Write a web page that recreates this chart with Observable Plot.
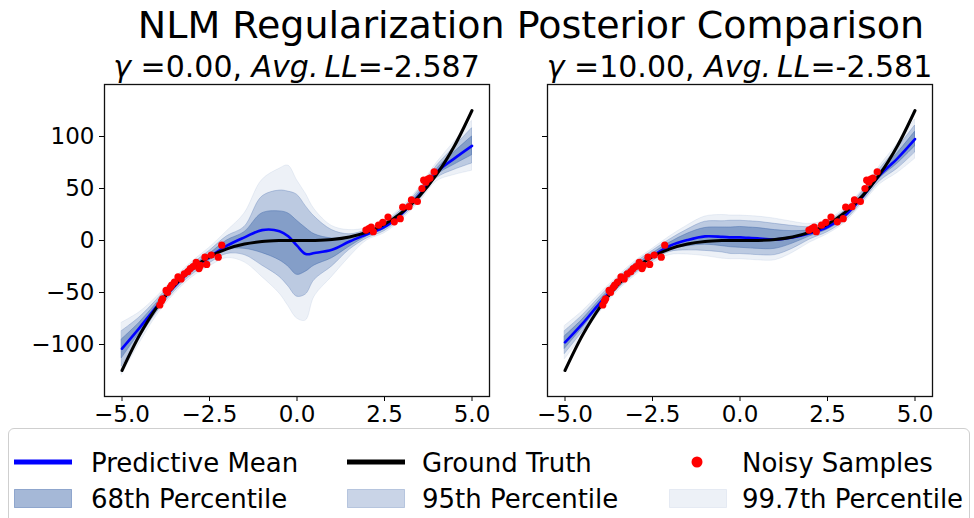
<!DOCTYPE html>
<html><head><meta charset="utf-8">
<script src="https://cdn.jsdelivr.net/npm/d3@7"></script>
<script src="https://cdn.jsdelivr.net/npm/@observablehq/plot@0.6"></script>
<style>
body{margin:0;background:#fff;font-family:"DejaVu Sans",sans-serif;}
#root{position:relative;width:974px;height:518px;overflow:hidden;background:#fff;}
.t{position:absolute;white-space:nowrap;line-height:1;color:#000;}
.c{transform:translateX(-50%);}
.i{font-style:italic;}
.box{position:absolute;left:8px;top:428px;width:962px;height:110px;border:1px solid #cfcfcf;border-radius:6px;box-sizing:border-box;}
</style></head><body><div id="root"></div>
<script>
// ---- data ----
const xs = [-5,-4.5,-4,-3.5,-3,-2.5,-2,-1.5,-1,-0.5,-0.25,0,0.25,0.5,1,1.5,2,2.5,3,3.5,4,4.5,5];
const truth = [-125,-91.1,-64,-42.9,-27,-15.6,-8,-3.4,-1,-0.1,0,0,0,0.1,1,3.4,8,15.6,27,42.9,64,91.1,125];

// left panel (gamma = 0)
const meanA  = [-104,-84,-63,-44,-28,-16,-5,3,10,9,4,-5,-13,-12,-9,-1,6,13,26,44,66,79,91];
const lo68A  = [-113,-89,-66,-46.5,-30.5,-19,-9,-8,-12,-19,-25,-33,-30,-24,-17,-6,4,11,24,41.5,63,73,82];
const hi68A  = [-95,-79,-60,-41.5,-25.5,-13,0,8,26,28,26,19,12,6,2,3,8,15,28,46.5,69,85,100];
const lo95A  = [-121,-94,-69,-49,-33,-22,-13,-14,-24,-35,-44,-54,-52,-38,-25,-9,2,9,22,39,60,68,74];
const hi95A  = [-87,-74,-57,-39,-23,-10,4,13,42,48,47,44,33,23,10,6,10,17,30,49,72,90,108];
const lo997A = [-129,-99,-72,-51.5,-35.5,-25,-17,-21,-35,-51,-63,-75,-77,-54,-35,-16,0,7,20,37,57,63,67];
const hi997A = [-79,-69,-54,-36.5,-20.5,-7,9,26,58,69,72,58,45,30,14,10,12,19,32,51,75,95,115];

// right panel (gamma = 10)
const meanB  = [-98,-80,-60,-42,-27,-15,-5,0.5,4,3.5,3,3,2.5,2,1,3,7,13,24,42,63,79,97.5];
const lo68B  = [-104,-84,-63,-44.5,-29.5,-17.5,-8,-5.5,-4,-5.5,-6.5,-7,-7.5,-8,-8,-3,4,10.5,21.5,39.5,60,74,90.5];
const hi68B  = [-92,-76,-57,-39.5,-24.5,-12.5,-2,6.5,12,12.5,12.5,13,12.5,12,10,9,10,15.5,26.5,44.5,66,84,104.5];
const lo95B  = [-109,-88,-66,-47,-32,-20,-11,-9.5,-10,-11.5,-13,-13,-13.5,-14,-14,-8,1,8,19,37,57,69,84.5];
const hi95B  = [-87,-72,-54,-37,-22,-10,1,10.5,18,18.5,19,19,18.5,18,16,14,13,18,29,47,69,89,110.5];
const lo997B = [-114,-92,-69,-49,-34,-22,-14,-13.5,-15,-17.5,-18,-18,-18.5,-19,-19,-12,-2,6,17,35,54,65,78.5];
const hi997B = [-82,-68,-51,-35,-20,-8,4,14.5,23,24.5,24,24,23.5,23,21,18,16,20,31,49,72,93,116.5];

// noisy samples
const sampleX = [-3.92,-3.87,-3.84,-3.74,-3.70,-3.62,-3.58,-3.50,-3.40,-3.31,-3.22,-3.12,-3.05,-2.97,-2.88,-2.80,-2.76,-2.63,-2.58,-2.45,-2.25,-2.15,
                 1.97,2.05,2.12,2.18,2.33,2.45,2.60,2.78,2.95,3.02,3.20,3.27,3.44,3.57,3.62,3.68,3.74,3.80,3.92];
const sampleY = [-62,-58,-56,-48,-50,-45,-43,-40,-35,-37,-32,-30,-27,-25,-21,-27,-24,-16,-23,-14,-16,-4.5,
                 10,11.5,13,8.5,14.7,17.5,22.5,18,21,32,32.5,39,37.5,50,58,56,59,60,66];

const xTickValues = [-5,-2.5,0,2.5,5];
const xTickLabels = ["\u22125.0","\u22122.5","0.0","2.5","5.0"];
const yTickValues = [-100,-50,0,50,100];
const yTickLabels = ["\u2212100","\u221250","0","50","100"];

const titleText = "NLM Regularization Posterior Comparison";
const legendLabels = ["Predictive Mean","Ground Truth","Noisy Samples","68th Percentile","95th Percentile","99.7th Percentile"];

// ---- drawing ----
const bandColor = "#4c72b0";
const root = document.getElementById("root");

function panel(mean, lo68, hi68, lo95, hi95, lo997, hi997, showY, left, width, ml, mr) {
  const rows = xs.map((x, i) => ({x, truth: truth[i], mean: mean[i],
    lo68: lo68[i], hi68: hi68[i], lo95: lo95[i], hi95: hi95[i], lo997: lo997[i], hi997: hi997[i]}));
  const samples = sampleX.map((x, i) => ({x, y: sampleY[i]}));
  const band = (a, b, op) => Plot.areaY(rows, {x: "x", y1: a, y2: b, fill: bandColor, fillOpacity: op,
    stroke: bandColor, strokeOpacity: op, strokeWidth: 1, curve: "catmull-rom"});
  const svg = Plot.plot({
    width, height: 350, marginTop: 4, marginBottom: 34, marginLeft: ml, marginRight: mr,
    style: {fontFamily: "DejaVu Sans", fontSize: "23px", background: "transparent", color: "#000", overflow: "visible"},
    x: {domain: [-5.5, 5.5]},
    y: {domain: [-150, 150]},
    marks: [
      band("lo997", "hi997", 0.1),
      band("lo95", "hi95", 0.3),
      band("lo68", "hi68", 0.5),
      Plot.line(rows, {x: "x", y: "mean", stroke: "#0000ff", strokeWidth: 2.6, curve: "catmull-rom"}),
      Plot.line(rows, {x: "x", y: "truth", stroke: "#000000", strokeWidth: 3, curve: "catmull-rom"}),
      Plot.dot(samples, {x: "x", y: "y", r: 3.6, fill: "#ff0000"}),
      Plot.axisX({ticks: xTickValues, tickFormat: d => xTickLabels[xTickValues.indexOf(d)], tickSize: 5, tickPadding: 4, label: null, stroke: "#000"}),
      Plot.axisY({ticks: yTickValues, tickFormat: showY ? (d => yTickLabels[yTickValues.indexOf(d)]) : (() => ""), tickSize: 5, tickPadding: 5, label: null, stroke: "#000"}),
      Plot.frame({stroke: "#111", strokeWidth: 1.3})
    ]
  });
  svg.style.position = "absolute";
  svg.style.left = left + "px";
  svg.style.top = "80px";
  root.appendChild(svg);
}

panel(meanA, lo68A, hi68A, lo95A, hi95A, lo997A, hi997A, true, 0, 500, 104, 11);
panel(meanB, lo68B, hi68B, lo95B, hi95B, lo997B, hi997B, false, 500, 474, 47, 42);

function addText(html, x, top, size, center) {
  const d = document.createElement("div");
  d.className = "t" + (center ? " c" : "");
  d.style.left = x + "px";
  d.style.top = top + "px";
  d.style.fontSize = size + "px";
  d.innerHTML = html;
  root.appendChild(d);
  return d;
}

addText(titleText, 531, 6, 38, true);
addText('<span class="i">\u03b3</span> =0.00, <span class="i">Avg.\u2009LL</span>=-2.587', 296.5, 51.5, 30, true);
addText('<span class="i">\u03b3</span> =10.00, <span class="i">Avg.\u2009LL</span>=-2.581', 739.5, 51.5, 30, true);

// legend
const box = document.createElement("div");
box.className = "box";
root.appendChild(box);

function swatch(svgInner, x, y, w, h) {
  const ns = "http://www.w3.org/2000/svg";
  const s = document.createElementNS(ns, "svg");
  s.setAttribute("width", w); s.setAttribute("height", h);
  s.style.position = "absolute"; s.style.left = x + "px"; s.style.top = y + "px";
  s.innerHTML = svgInner;
  root.appendChild(s);
}
const cols = [14, 347, 669];
const textX = [91, 422, 742];
const row1 = 462, row2 = 498;
swatch('<line x1="0" x2="58" y1="4" y2="4" stroke="#0000ff" stroke-width="5"/>', cols[0], row1 - 4, 58, 8);
swatch('<line x1="0" x2="58" y1="4" y2="4" stroke="#000000" stroke-width="5"/>', cols[1], row1 - 4, 58, 8);
swatch('<circle cx="28" cy="6" r="5.5" fill="#ff0000"/>', cols[2], row1 - 6, 58, 12);
const ops = [0.5, 0.3, 0.1];
ops.forEach((op, k) => {
  swatch(`<rect x="0.5" y="0.5" width="57" height="18" fill="${bandColor}" fill-opacity="${op}" stroke="${bandColor}" stroke-opacity="${op}" stroke-width="1"/>`, cols[k], row2 - 9.5, 58, 19);
});
legendLabels.forEach((lab, k) => {
  const r = k < 3 ? row1 : row2;
  addText(lab, textX[k % 3], r + 9.5 - 22, 26, false);
});
</script></body></html>
